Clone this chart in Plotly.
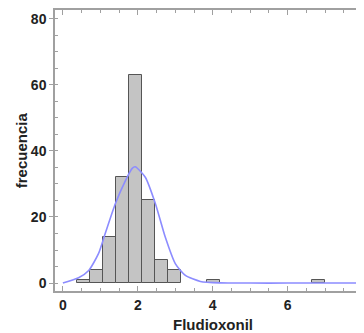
import plotly.graph_objects as go

# Histogram bins (centers), counts
bin_centers = [0.55, 0.90, 1.245, 1.59, 1.94, 2.29, 2.635, 2.98, 4.03, 6.82]
counts = [1, 4, 14, 32, 63, 25, 7, 4, 1, 1]
bin_width = 0.348

# Fitted density curve
curve_x = [0.0, 0.42, 0.69, 0.95, 1.13, 1.40, 1.67, 1.85, 1.93, 2.20, 2.47, 2.73, 3.00, 3.27, 3.67, 4.2, 5.0, 6.0, 7.0, 8.0]
curve_y = [0.0, 1.6, 3.8, 8.9, 15.0, 24.0, 31.0, 34.7, 35.2, 32.0, 24.0, 14.0, 5.9, 2.3, 0.5, 0.05, 0.0, 0.0, 0.0, 0.0]

x_ticks = [0, 2, 4, 6, 8]
y_ticks = [0, 20, 40, 60, 80]

FONT = "Liberation Sans, Arial, sans-serif"
AX = "#a0a0a0"
TXT = "#222222"

fig = go.Figure()
fig.add_trace(go.Bar(
    x=bin_centers, y=counts, width=bin_width,
    marker=dict(color="#c4c4c4", line=dict(color="#555555", width=1)),
    showlegend=False,
))
fig.add_trace(go.Scatter(
    x=curve_x, y=curve_y, mode="lines",
    line=dict(color="#8c8cff", width=1.6, shape="spline", smoothing=0.6),
    showlegend=False,
))

fig.update_layout(
    width=364, height=333,
    margin=dict(l=47, r=0, t=2, b=50),
    paper_bgcolor="white", plot_bgcolor="white",
    font=dict(family=FONT, color=TXT),
    bargap=0,
    xaxis=dict(
        range=[-0.21, 8.25], tickvals=x_ticks, ticktext=[str(v) for v in x_ticks],
        automargin=False,
        showgrid=False, zeroline=False,
        showline=True, linecolor=AX, linewidth=1.5, mirror="ticks",
        ticks="inside", ticklen=5, tickcolor=AX, tickwidth=1,
        minor=dict(dtick=0.5, tick0=0, ticks="inside", ticklen=3, tickcolor=AX, tickwidth=1),
        tickfont=dict(family=FONT, size=14, color=TXT, weight="bold"),
    ),
    yaxis=dict(
        range=[-2.4, 82.6], tickvals=y_ticks, ticktext=[str(v) for v in y_ticks],
        automargin=False,
        showgrid=False, zeroline=False,
        showline=True, linecolor=AX, linewidth=1.5, mirror=False,
        ticks="outside", ticklen=4, tickcolor=AX, tickwidth=1,
        minor=dict(dtick=5, tick0=0, ticks="inside", ticklen=3, tickcolor=AX, tickwidth=1),
        tickfont=dict(family=FONT, size=14, color=TXT, weight="bold"),
    ),
    annotations=[
        dict(text="<b>Fludioxonil</b>", xref="paper", yref="paper", x=0.498, y=-0.118,
             xanchor="center", yanchor="middle", showarrow=False,
             font=dict(family=FONT, size=15, color=TXT)),
        dict(text="<b>frecuencia</b>", xref="paper", yref="paper", x=-0.105, y=0.5,
             xanchor="center", yanchor="middle", showarrow=False, textangle=-90,
             font=dict(family=FONT, size=15, color=TXT)),
    ],
)

fig.write_html("out.html")
